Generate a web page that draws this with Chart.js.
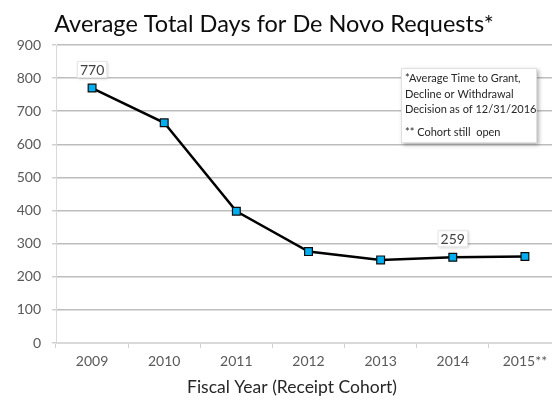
<!DOCTYPE html>
<html>
<head>
<meta charset="utf-8">
<script src="https://cdn.jsdelivr.net/npm/chart.js@4.4.0/dist/chart.umd.min.js"></script>
<style>
html,body{margin:0;padding:0;background:#fff;overflow:hidden;width:552px;height:400px;}
#wrap{width:570px;height:400px;position:relative;}
</style>
</head>
<body>
<div id="wrap"><canvas id="c" width="570" height="400"></canvas></div>
<script>
const categories = ["2009","2010","2011","2012","2013","2014","2015**"];
const avgDays = [770, 665, 398, 276, 251, 259, 261];
const labelledPoints = [0, 5];
const yTicks = [0,100,200,300,400,500,600,700,800,900];
const chartTitle = "Average Total Days for De Novo Requests*";
const xTitle = "Fiscal Year (Receipt Cohort)";
const noteLines = ["*Average Time to Grant,", "Decline or Withdrawal", "Decision as of 12/31/2016", "", "** Cohort still  open"];

const FONT = "Lato, 'Open Sans', sans-serif";

const decor = {
  id: 'decor',
  beforeDraw(chart){
    const ctx = chart.ctx;
    ctx.save();
    ctx.fillStyle = '#fff';
    ctx.fillRect(0,0,chart.width,chart.height);
    ctx.restore();
  },
  afterDatasetsDraw(chart){
    const ctx = chart.ctx;
    const meta = chart.getDatasetMeta(0);
    ctx.save();
    ctx.font = "14px " + FONT;
    ctx.textAlign = 'center';
    ctx.textBaseline = 'middle';
    labelledPoints.forEach(i => {
      const p = meta.data[i];
      const txt = String(avgDays[i]);
      const w = ctx.measureText(txt).width + 6;
      const h = 17;
      const bx = p.x - w/2, by = p.y - 10 - h;
      ctx.shadowColor = 'rgba(0,0,0,0.25)';
      ctx.shadowBlur = 3; ctx.shadowOffsetX = 1; ctx.shadowOffsetY = 1;
      ctx.fillStyle = '#fff';
      ctx.fillRect(bx, by, w, h);
      ctx.shadowColor = 'transparent';
      ctx.strokeStyle = '#e6e6e6'; ctx.lineWidth = 1;
      ctx.strokeRect(bx+0.5, by+0.5, w-1, h-1);
      ctx.fillStyle = '#404040';
      ctx.fillText(txt, p.x, by + h/2 + 1);
    });
    const bx = 401, by = 68, bw = 136, bh = 75;
    ctx.shadowColor = 'rgba(0,0,0,0.3)';
    ctx.shadowBlur = 4; ctx.shadowOffsetX = 2; ctx.shadowOffsetY = 2;
    ctx.fillStyle = '#fff';
    ctx.fillRect(bx, by, bw, bh);
    ctx.shadowColor = 'transparent';
    ctx.strokeStyle = '#e0e0e0';
    ctx.strokeRect(bx+0.5, by+0.5, bw-1, bh-1);
    ctx.font = "11px " + FONT;
    ctx.textAlign = 'left';
    ctx.fillStyle = '#262626';
    const ys = [78, 94, 109, 0, 132];
    noteLines.forEach((l, i) => { if (l) ctx.fillText(l, 405, ys[i]); });
    ctx.fillStyle = '#0d0d0d';
    ctx.textAlign = 'center';
    ctx.font = "23.5px " + FONT;
    ctx.fillText(chartTitle, 274, 24);
    ctx.fillStyle = '#262626';
    ctx.font = "17.5px " + FONT;
    ctx.fillText(xTitle, 292, 387);
    ctx.restore();
  }
};

new Chart(document.getElementById('c'), {
  type: 'line',
  data: {
    labels: categories,
    datasets: [{
      data: avgDays,
      borderColor: '#000',
      borderWidth: 2.5,
      tension: 0,
      pointStyle: 'rect',
      pointRadius: 5.5,
      pointHoverRadius: 5.5,
      pointBackgroundColor: '#00aeef',
      pointBorderColor: '#0d0d0d',
      pointBorderWidth: 1.2
    }]
  },
  options: {
    responsive: false,
    animation: false,
    devicePixelRatio: 1,
    layout: { padding: { top: 45, right: 9, left: 0, bottom: 0 } },
    plugins: { legend: { display: false }, tooltip: { enabled: false }, title: { display: false } },
    scales: {
      x: {
        offset: true,
        afterFit(s){ s.height = 57; },
        grid: { offset: true, drawOnChartArea: false, drawTicks: true, tickLength: 5, color: '#d0d0d0' },
        border: { color: '#d9d9d9', width: 1 },
        ticks: { color: '#595959', font: { family: FONT, size: 14 }, padding: 5, maxRotation: 0, autoSkip: false }
      },
      y: {
        min: 0, max: 900,
        afterFit(s){ s.width = 56; },
        afterBuildTicks(s){ s.ticks = yTicks.map(v => ({ value: v })); },
        grid: {
          color: (c) => c.tick && c.tick.value === 0 ? '#d9d9d9' : '#bdbdbd',
          lineWidth: 1.5,
          tickLength: 4,
          tickColor: '#d0d0d0'
        },
        border: { color: '#d9d9d9', width: 1 },
        ticks: { color: '#595959', font: { family: FONT, size: 14 }, padding: 11 }
      }
    }
  },
  plugins: [decor]
});
</script>
</body>
</html>
